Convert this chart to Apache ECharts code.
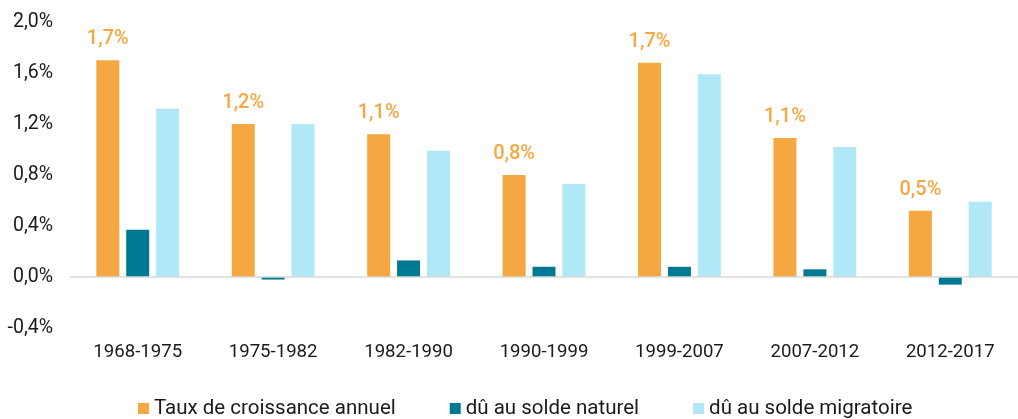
<!DOCTYPE html>
<html>
<head>
<meta charset="utf-8">
<script src="https://cdn.jsdelivr.net/npm/echarts@6/dist/echarts.min.js"></script>
<style>
html,body{margin:0;padding:0;background:#fff;}
#main{width:1018px;height:419px;}
</style>
</head>
<body>
<div id="main"></div>
<script>
// périodes
var categories = ['1968-1975','1975-1982','1982-1990','1990-1999','1999-2007','2007-2012','2012-2017'];
// taux annuels en %
var tauxAnnuel = [1.70, 1.20, 1.12, 0.80, 1.68, 1.09, 0.52];
var soldeNaturel = [0.37, -0.02, 0.13, 0.08, 0.08, 0.06, -0.06];
var soldeMigratoire = [1.32, 1.20, 0.99, 0.73, 1.59, 1.02, 0.59];
var seriesNames = ['Taux de croissance annuel','dû au solde naturel','dû au solde migratoire'];
var colors = ['#F5A841','#007A93','#B1E8F8'];

function pct(v){
    return v.toFixed(1).replace('.',',')+'%';
}

var myChart = echarts.init(document.getElementById('main'));
var font = 'Roboto, "Noto Sans", sans-serif';
var option = {
    animation:false,
    textStyle:{fontFamily:font},
    grid:{left:70,top:22,bottom:91,width:959,containLabel:false},
    legend:{
        left:138,
        top:398,
        padding:0,
        itemWidth:11,
        itemHeight:11,
        itemGap:54,
        icon:'rect',
        textStyle:{fontSize:20.5,color:'#1a1a1a',fontFamily:font},
        data:seriesNames
    },
    xAxis:{
        type:'category',
        data:categories,
        axisLine:{show:false},
        axisTick:{show:false},
        axisLabel:{fontSize:18.6,color:'#1a1a1a',margin:15,fontFamily:font}
    },
    yAxis:{
        type:'value',
        min:-0.4,
        max:2.0,
        interval:0.4,
        splitLine:{show:false},
        axisLine:{show:false},
        axisTick:{show:false},
        axisLabel:{
            fontSize:19.5,color:'#1a1a1a',margin:17,fontFamily:font,
            formatter:function(v){return pct(v);}
        }
    },
    series:[
        {
            name:seriesNames[0],
            type:'bar',
            barWidth:23,
            barGap:'30%',
            itemStyle:{color:colors[0]},
            label:{
                show:true,
                position:'top',
                distance:11,
                color:colors[0],
                fontSize:20,
                fontWeight:500,
                fontFamily:font,
                formatter:function(p){return pct(p.value);}
            },
            markLine:{
                silent:true,
                symbol:['none','none'],
                label:{show:false},
                lineStyle:{color:'#d9d9d9',width:1.5,type:'solid'},
                data:[{yAxis:0}]
            },
            data:tauxAnnuel
        },
        {
            name:seriesNames[1],
            type:'bar',
            barWidth:23,
            barGap:'30%',
            itemStyle:{color:colors[1]},
            data:soldeNaturel
        },
        {
            name:seriesNames[2],
            type:'bar',
            barWidth:23,
            barGap:'30%',
            itemStyle:{color:colors[2]},
            data:soldeMigratoire
        }
    ]
};
myChart.setOption(option);
</script>
</body>
</html>
